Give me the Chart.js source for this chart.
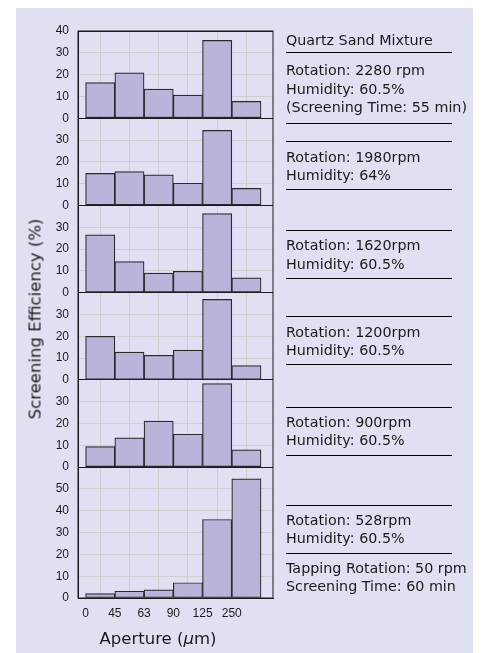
<!DOCTYPE html>
<html>
<head>
<meta charset="utf-8">
<script src="https://cdn.jsdelivr.net/npm/chart.js@4.4.1/dist/chart.umd.min.js"></script>
<style>
  body { margin:0; background:#fff; width:482px; height:653px; position:relative; overflow:hidden;
         font-family:"DejaVu Sans", sans-serif; color:#1a1a1a; }
  #bg { position:absolute; left:16px; top:8px; width:457px; height:645px; background:#dfe1f3; }
  #c { position:absolute; left:0; top:0; }
  .t { position:absolute; left:286px; font-size:14.3px; line-height:18.3px; white-space:nowrap; }
  .ln { position:absolute; left:286px; width:166px; height:1px; background:#000; }
  #yt { position:absolute; left:35px; top:319px; transform:translate(-50%,-50%) rotate(-90deg);
        font-size:16.5px; white-space:nowrap; }
  #xt { position:absolute; left:158px; top:638px; transform:translate(-50%,-50%);
        font-size:16.5px; white-space:nowrap; }
</style>
</head>
<body>
<div id="bg"></div>
<canvas id="c" width="482" height="653"></canvas>
<div id="yt">Screening Efficiency (%)</div>
<div id="xt">Aperture (<i>μ</i>m)</div>
<div id="notes"></div>
<script>
// aperture edges (µm) and screening efficiency (%) per rotation speed
const apertures = ['0', '45', '63', '90', '125', '250'];
const rpm2280 = [16.3, 20.8, 13.4, 10.6, 35.7, 7.7];
const rpm1980 = [14.7, 15.5, 14.0, 10.2, 34.4, 7.8];
const rpm1620 = [26.5, 14.3, 9.0, 9.8, 36.3, 6.8];
const rpm1200 = [20.0, 12.8, 11.3, 13.7, 36.9, 6.6];
const rpm900 = [9.4, 13.4, 21.1, 15.1, 38.3, 7.9];
const rpm528 = [2.0, 3.1, 3.7, 7.0, 36.0, 54.6];
const panelMax = [40, 40, 40, 40, 40, 60];

// right side text blocks: [top, lines]
const noteText = [
  [31.3, ['Quartz Sand Mixture']],
  [61.3, ['Rotation: 2280 rpm', 'Humidity: 60.5%', '(Screening Time: 55 min)']],
  [148, ['Rotation: 1980rpm', 'Humidity: 64%']],
  [236.3, ['Rotation: 1620rpm', 'Humidity: 60.5%']],
  [323, ['Rotation: 1200rpm', 'Humidity: 60.5%']],
  [413, ['Rotation: 900rpm', 'Humidity: 60.5%']],
  [510.6, ['Rotation: 528rpm', 'Humidity: 60.5%']],
  [559, ['Tapping Rotation: 50 rpm', 'Screening Time: 60 min']]
];
const noteLines = [52, 123, 141, 189, 230, 278, 316, 364, 407, 455, 505, 553];

const notes = document.getElementById('notes');
noteText.forEach(([top, lines]) => {
  const d = document.createElement('div');
  d.className = 't';
  d.style.top = top + 'px';
  d.innerHTML = lines.join('<br>');
  notes.appendChild(d);
});
noteLines.forEach(y => {
  const d = document.createElement('div');
  d.className = 'ln';
  d.style.top = y + 'px';
  notes.appendChild(d);
});

const panels = [rpm2280, rpm1980, rpm1620, rpm1200, rpm900, rpm528];
const ink = '#1a1a1a';
const tickFont = { family: 'Liberation Sans', size: 12 };

const scales = {
  x: {
    type: 'linear',
    min: -0.26,
    max: 6.41,
    offset: false,
    afterBuildTicks: s => { s.ticks = apertures.map((a, i) => ({ value: i })); },
    ticks: { callback: (v, i) => apertures[i], color: ink, font: tickFont, padding: 8, autoSkip: false, maxRotation: 0 },
    grid: { offset: true, color: '#cfcfcf', drawTicks: false },
    border: { color: ink, width: 1 },
    afterFit: s => { s.height = 55; }
  }
};

panels.forEach((p, k) => {
  const max = panelMax[k];
  scales['y' + k] = {
    type: 'linear',
    position: 'left',
    stack: 'panels',
    stackWeight: max,
    weight: 10 - k,
    min: 0,
    max: max,
    ticks: {
      stepSize: 10, autoSkip: false, padding: 9, color: ink, font: tickFont,
      callback: v => (v === max && k > 0) ? '' : v
    },
    grid: {
      drawTicks: false,
      color: c => {
        if (!c.tick) return '#cfcfcf';
        if (c.tick.value === 0) return ink;
        if (c.tick.value === max) return k === 0 ? ink : 'rgba(0,0,0,0)';
        return '#cfcfcf';
      }
    },
    border: { color: ink, width: 1 },
    afterFit: s => { s.width = 78; }
  };
});

const datasets = panels.map((vals, k) => ({
  data: vals.map((v, i) => ({ x: i + 0.5, y: v })),
  xAxisID: 'x',
  yAxisID: 'y' + k,
  backgroundColor: '#b9b4d9',
  borderColor: '#2a2a2a',
  borderWidth: 1.2,
  borderSkipped: false,
  grouped: false,
  barPercentage: 1,
  categoryPercentage: 1
}));

// outer frame of the plot area
const frame = {
  id: 'frame',
  afterDatasetsDraw(chart) {
    const { ctx, chartArea: a } = chart;
    ctx.save();
    ctx.strokeStyle = ink;
    ctx.lineWidth = 1;
    ctx.strokeRect(a.left, a.top, a.right - a.left, a.bottom - a.top);
    ctx.restore();
  }
};

new Chart(document.getElementById('c'), {
  type: 'bar',
  data: { datasets: datasets },
  options: {
    responsive: false,
    animation: false,
    layout: { padding: { left: 0, top: 31, right: 209, bottom: 0 } },
    plugins: { legend: { display: false }, tooltip: { enabled: false } },
    scales: scales
  },
  plugins: [frame]
});
</script>
</body>
</html>
